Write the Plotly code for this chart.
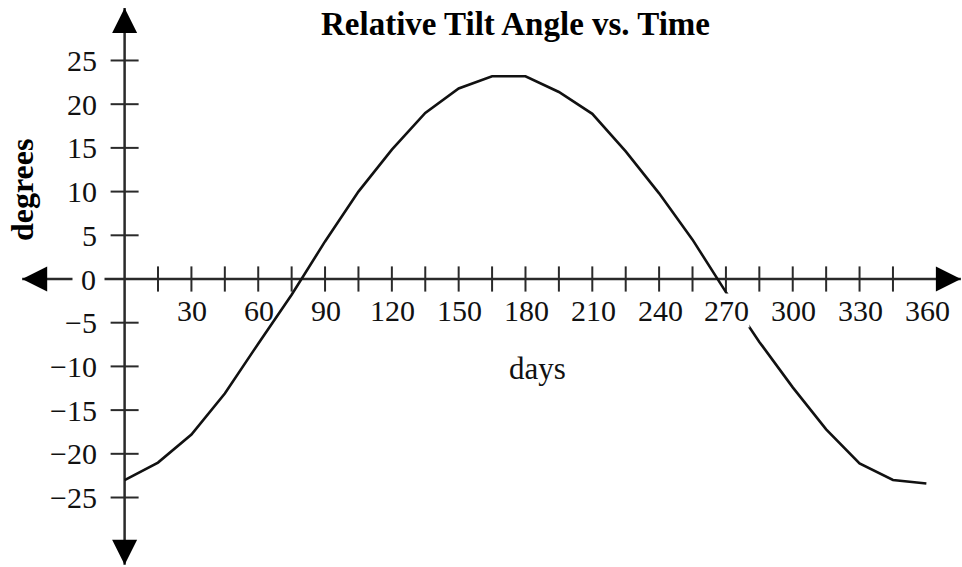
import plotly.graph_objects as go

# Relative tilt angle (degrees) sampled every 15 days
days = [0, 15, 30, 45, 60, 75, 90, 105, 120, 135, 150, 165, 180,
        195, 210, 225, 240, 255, 270, 285, 300, 315, 330, 345, 360]
tilt = [-23.0, -21.0, -17.8, -13.1, -7.4, -1.8, 4.3, 10.0, 14.8, 19.0, 21.8, 23.2, 23.2,
        21.4, 18.9, 14.6, 9.8, 4.5, -1.5, -7.2, -12.4, -17.2, -21.1, -23.0, -23.4]

x_ticks = list(range(15, 346, 15))
x_labels = [30, 60, 90, 120, 150, 180, 210, 240, 270, 300, 330, 360]
y_ticks = [-25, -20, -15, -10, -5, 5, 10, 15, 20, 25]
y_labels = [25, 20, 15, 10, 5, 0, -5, -10, -15, -20, -25]

X_RANGE = [-55.95, 376.0]
Y_RANGE = [-32.95, 31.92]
X_AXIS_ENDS = [-46.0, 375.5]
Y_AXIS_ENDS = [-32.7, 31.0]

INK = "#111111"
AXIS = "#2a2a2a"
FONT = "Liberation Serif, Times New Roman, serif"

fig = go.Figure()

# axis lines
fig.add_trace(go.Scatter(x=X_AXIS_ENDS, y=[0, 0], mode="lines",
                         line=dict(color=AXIS, width=2.5), hoverinfo="skip", cliponaxis=False))
fig.add_trace(go.Scatter(x=[0, 0], y=Y_AXIS_ENDS, mode="lines",
                         line=dict(color=AXIS, width=2.5), hoverinfo="skip", cliponaxis=False))

# tick marks crossing the axes
fig.add_trace(go.Scatter(x=x_ticks, y=[0] * len(x_ticks), mode="markers",
                         marker=dict(symbol="line-ns", size=18,
                                     line=dict(color=AXIS, width=2)),
                         hoverinfo="skip", cliponaxis=False))
fig.add_trace(go.Scatter(x=[0] * len(y_ticks), y=y_ticks, mode="markers",
                         marker=dict(symbol="line-ew", size=20,
                                     line=dict(color=AXIS, width=2)),
                         hoverinfo="skip", cliponaxis=False))

# arrow heads at the axis ends
fig.add_trace(go.Scatter(
    x=[X_AXIS_ENDS[0], X_AXIS_ENDS[1], 0, 0],
    y=[0, 0, Y_AXIS_ENDS[1], Y_AXIS_ENDS[0]],
    mode="markers",
    marker=dict(symbol=["arrow-left", "arrow-right", "arrow-up", "arrow-down"],
                size=25, color="#000000", line=dict(width=0)),
    hoverinfo="skip", cliponaxis=False))

# the tilt curve
fig.add_trace(go.Scatter(x=days, y=tilt, mode="lines",
                         line=dict(color=INK, width=2.6), cliponaxis=False))

annotations = []
for d in x_labels:
    annotations.append(dict(
        x=d, y=0, xref="x", yref="y", text=str(d), showarrow=False,
        xanchor="center", yanchor="top", yshift=-14, xshift=1,
        font=dict(family=FONT, size=30, color=INK),
        bgcolor="white" if d == 270 else "rgba(0,0,0,0)", borderpad=0))
for v in y_labels:
    txt = str(v).replace("-", "\u2212")
    annotations.append(dict(
        x=0, y=v, xref="x", yref="y", text=txt, showarrow=False,
        xanchor="right", yanchor="middle",
        xshift=-20 if v == 0 else -26,
        font=dict(family=FONT, size=30, color=INK),
        bgcolor="white" if v == 0 else "rgba(0,0,0,0)",
        borderpad=8 if v == 0 else 1))

annotations += [
    dict(x=515.5 / 962, y=1 - 24 / 567, xref="paper", yref="paper",
         text="<b>Relative Tilt Angle vs. Time</b>", showarrow=False,
         xanchor="center", yanchor="middle",
         font=dict(family=FONT, size=33, color="#000000")),
    dict(x=537.5 / 962, y=1 - 368 / 567, xref="paper", yref="paper",
         text="days", showarrow=False, xanchor="center", yanchor="middle",
         font=dict(family=FONT, size=31, color=INK)),
    dict(x=22 / 962, y=1 - 190 / 567, xref="paper", yref="paper",
         text="<b>degrees</b>", showarrow=False, textangle=-90,
         xanchor="center", yanchor="middle",
         font=dict(family=FONT, size=32, color="#000000")),
]

fig.update_layout(
    width=962, height=567, autosize=False,
    margin=dict(l=0, r=0, t=0, b=0),
    paper_bgcolor="white", plot_bgcolor="white",
    showlegend=False,
    xaxis=dict(range=X_RANGE, visible=False, fixedrange=True),
    yaxis=dict(range=Y_RANGE, visible=False, fixedrange=True),
    annotations=annotations,
)

fig.write_html("out.html")
